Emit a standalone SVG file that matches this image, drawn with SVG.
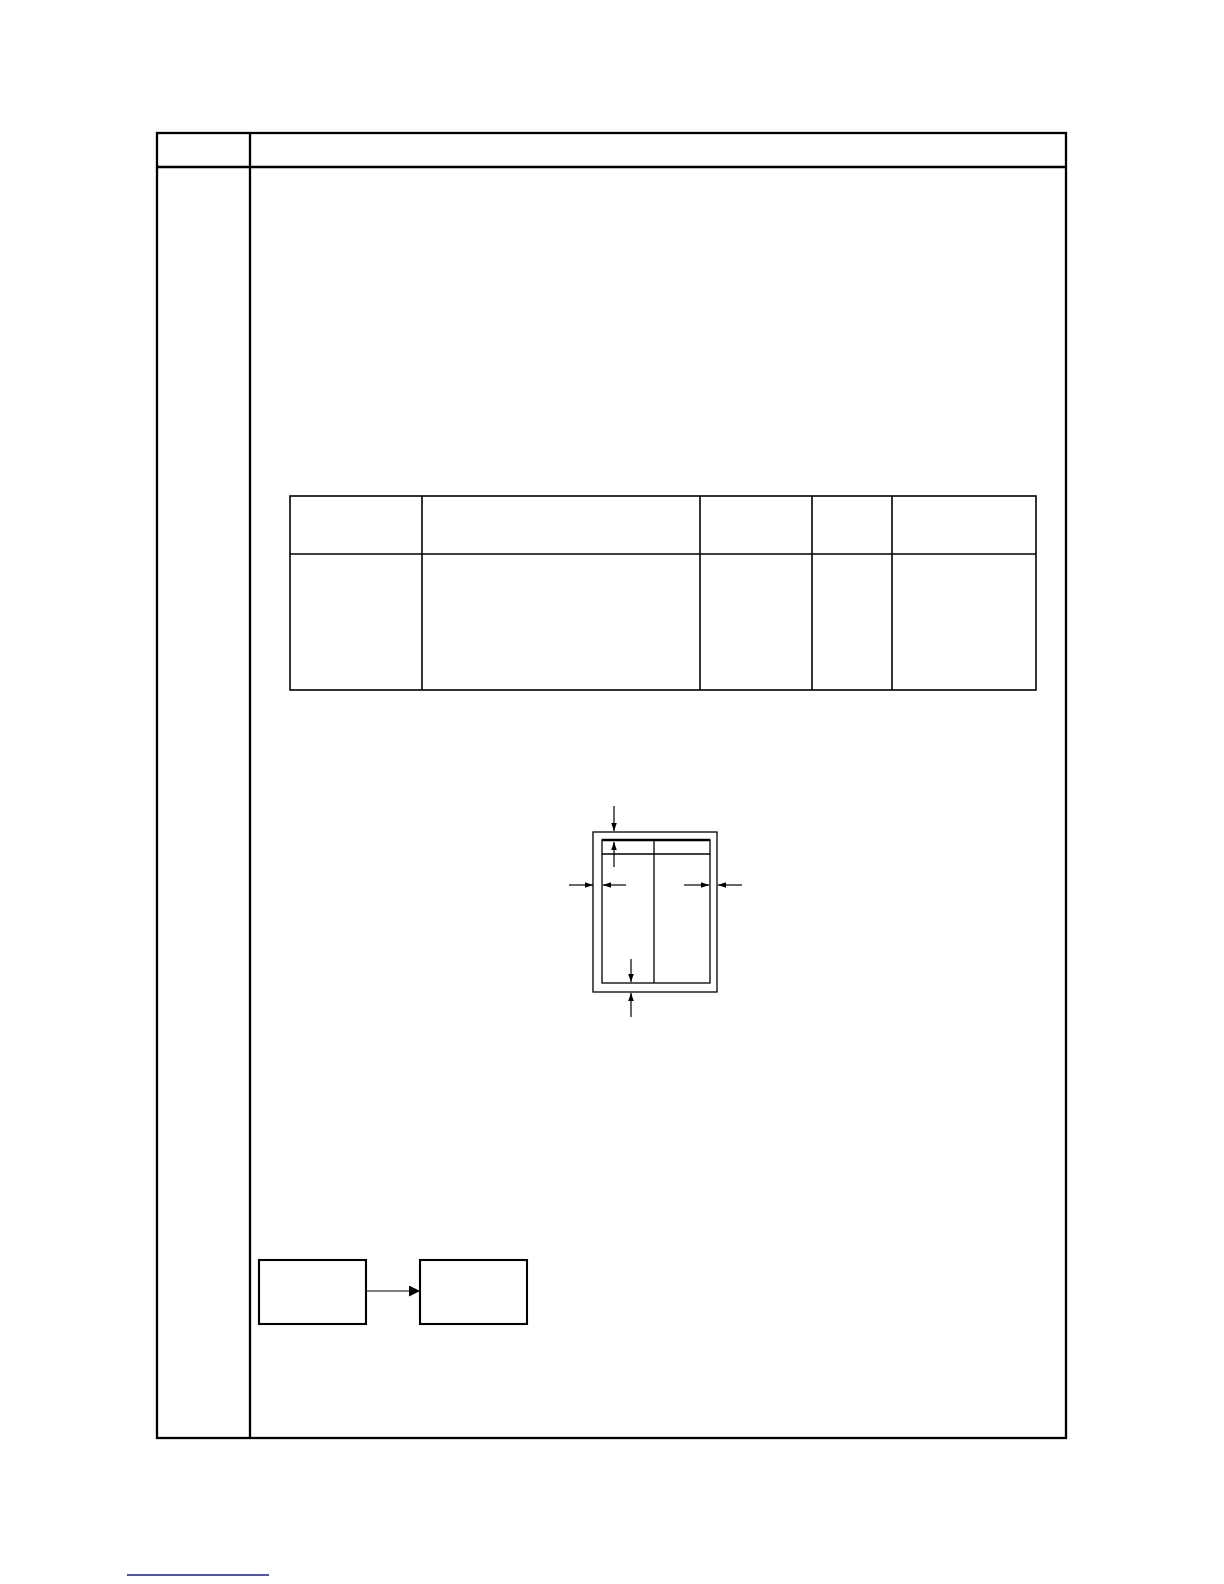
<svg xmlns="http://www.w3.org/2000/svg" width="1224" height="1584" viewBox="0 0 1224 1584">
<defs>
<style>
.frame{fill:none;stroke:#000;stroke-width:2.3}
.tbl{fill:none;stroke:#000;stroke-width:1.6}
.fig{fill:none;stroke:#000;stroke-width:1.3}
.box{fill:#fff;stroke:#000;stroke-width:2.1}
.conn{fill:none;stroke:#000;stroke-width:1.2}
</style>
<marker id="ah" viewBox="0 0 10 10" refX="10" refY="5" markerWidth="8" markerHeight="8" markerUnits="userSpaceOnUse" orient="auto">
<path d="M0,1.5 L10,5 L0,8.5 Z" fill="#000"/>
</marker>
<marker id="ah2" viewBox="0 0 10 10" refX="10" refY="5" markerWidth="11" markerHeight="11" markerUnits="userSpaceOnUse" orient="auto">
<path d="M0,0 L10,5 L0,10 Z" fill="#000"/>
</marker>
</defs>
<rect width="1224" height="1584" fill="#fff"/>
<g id="page-frame">
<rect class="frame" x="157" y="133" width="909" height="1305"/>
<line class="frame" x1="157" y1="167" x2="1066" y2="167"/>
<line class="frame" x1="250" y1="133" x2="250" y2="1438"/>
</g>
<g id="spec-table">
<rect class="tbl" x="290" y="496" width="746" height="194"/>
<line class="tbl" x1="290" y1="554" x2="1036" y2="554"/>
<line class="tbl" x1="422" y1="496" x2="422" y2="690"/>
<line class="tbl" x1="700" y1="496" x2="700" y2="690"/>
<line class="tbl" x1="812" y1="496" x2="812" y2="690"/>
<line class="tbl" x1="892" y1="496" x2="892" y2="690"/>
</g>
<g id="margin-figure">
<rect class="fig" x="593" y="832" width="124" height="160"/>
<rect class="fig" x="602" y="840" width="108" height="143"/>
<line x1="602" y1="840" x2="710" y2="840" stroke="#000" stroke-width="2.5"/>
<line class="fig" x1="602" y1="854" x2="710" y2="854"/>
<line class="fig" x1="654" y1="840" x2="654" y2="983"/>
<line class="conn" x1="614" y1="806" x2="614" y2="831" marker-end="url(#ah)"/>
<line class="conn" x1="614" y1="867" x2="614" y2="842" marker-end="url(#ah)"/>
<line class="conn" x1="569" y1="885" x2="593" y2="885" marker-end="url(#ah)"/>
<line class="conn" x1="626" y1="885" x2="603" y2="885" marker-end="url(#ah)"/>
<line class="conn" x1="684" y1="885" x2="709" y2="885" marker-end="url(#ah)"/>
<line class="conn" x1="742" y1="885" x2="718" y2="885" marker-end="url(#ah)"/>
<line class="conn" x1="631" y1="959" x2="631" y2="982" marker-end="url(#ah)"/>
<line class="conn" x1="631" y1="1017" x2="631" y2="993" marker-end="url(#ah)"/>
</g>
<g id="node-a">
<rect class="box" x="259" y="1260" width="107" height="64"/>
</g>
<g id="node-b">
<rect class="box" x="420" y="1260" width="107" height="64"/>
</g>
<g id="connectors">
<line class="conn" x1="366" y1="1291" x2="420" y2="1291" marker-end="url(#ah2)"/>
</g>
<line x1="127" y1="1575" x2="269" y2="1575" stroke="#1a1a8c" stroke-width="1.3"/>
</svg>
